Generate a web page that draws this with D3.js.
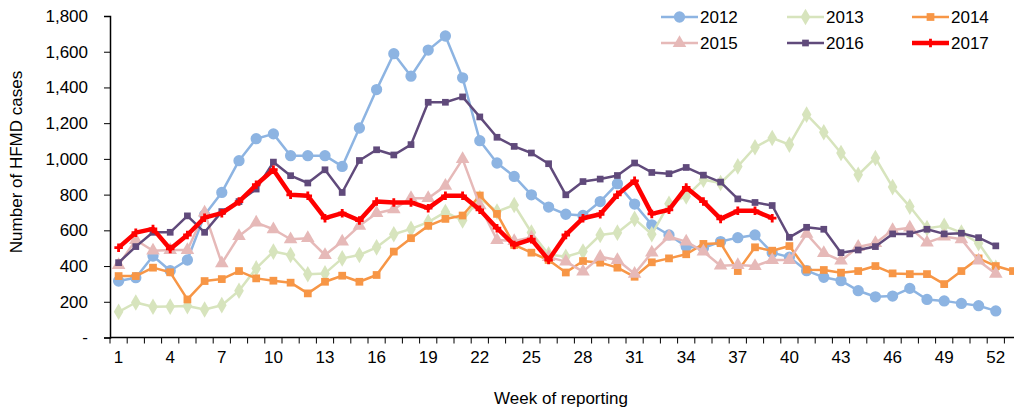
<!DOCTYPE html>
<html>
<head>
<meta charset="utf-8">
<script src="https://cdn.jsdelivr.net/npm/d3@7"></script>
<style>
  body { margin: 0; background: #fff; }
  text { font-family: "Liberation Sans", Arial, sans-serif; fill: #000; }
</style>
</head>
<body>
<div id="chart"></div>
<script>
// weekly HFMD cases per year
var weeks = d3.range(1, 54);
var yearNames = ["2012", "2013", "2014", "2015", "2016", "2017"];
var cases2012 = [316, 335, 456, 374, 434, 686, 812, 990, 1113, 1140, 1018, 1018, 1018, 958, 1173, 1388, 1589, 1463, 1609, 1688, 1454, 1102, 977, 902, 799, 730, 690, 683, 761, 861, 747, 631, 574, 509, 500, 537, 559, 574, 475, 450, 374, 337, 318, 262, 228, 232, 275, 213, 205, 191, 178, 149];
var cases2013 = [144, 196, 172, 173, 176, 157, 181, 262, 387, 481, 462, 354, 359, 443, 462, 505, 578, 608, 646, 702, 655, 780, 705, 742, 588, 465, 452, 481, 574, 587, 664, 578, 749, 790, 883, 865, 958, 1065, 1117, 1080, 1248, 1149, 1033, 911, 1005, 842, 733, 612, 625, 587, 528, 390];
var cases2014 = [344, 344, 391, 365, 213, 316, 327, 372, 331, 318, 307, 247, 312, 346, 312, 350, 481, 556, 625, 664, 683, 795, 692, 518, 475, 434, 364, 428, 419, 391, 340, 421, 443, 466, 524, 528, 372, 505, 486, 512, 380, 378, 363, 372, 400, 359, 355, 355, 299, 372, 443, 400, 372];
var cases2015 = [406, 546, 486, 490, 490, 699, 415, 568, 643, 606, 550, 556, 462, 537, 625, 696, 718, 780, 780, 849, 999, 740, 546, 540, 560, 450, 425, 369, 452, 434, 357, 475, 565, 537, 481, 402, 406, 400, 434, 434, 580, 473, 430, 507, 528, 602, 615, 531, 565, 550, 430, 357];
var cases2016 = [419, 509, 589, 589, 681, 589, 705, 761, 831, 982, 906, 865, 939, 812, 991, 1051, 1022, 1080, 1317, 1317, 1347, 1235, 1121, 1070, 1033, 973, 799, 873, 887, 907, 977, 924, 917, 952, 909, 870, 776, 756, 739, 561, 617, 606, 475, 490, 509, 580, 580, 606, 580, 584, 559, 513];
var cases2017 = [503, 587, 608, 496, 574, 671, 696, 761, 855, 939, 799, 793, 668, 696, 655, 761, 756, 756, 724, 793, 793, 715, 612, 518, 550, 434, 574, 668, 690, 799, 877, 692, 715, 840, 761, 664, 709, 709, 668];
var yTicks = [0, 200, 400, 600, 800, 1000, 1200, 1400, 1600, 1800];
var xLabelWeeks = [1, 4, 7, 10, 13, 16, 19, 22, 25, 28, 31, 34, 37, 40, 43, 46, 49, 52];

var allCases = [cases2012, cases2013, cases2014, cases2015, cases2016, cases2017];

// look of each series, same order as yearNames
var styles = [
  { color: "#8db4e2", width: 2.5, symbol: d3.symbolCircle, size: 100 },
  { color: "#d7e4bd", width: 2.5, symbol: d3.symbolDiamond, size: 80 },
  { color: "#f79646", width: 2.5, symbol: d3.symbolSquare, size: 60 },
  { color: "#e6b9b8", width: 2.5, symbol: d3.symbolTriangle, size: 80 },
  { color: "#604a7b", width: 2.5, symbol: d3.symbolSquare, size: 45 },
  { color: "#ff0000", width: 4.5, symbol: d3.symbolCross, size: 40 }
];

var width = 1014, height = 412;
var step = 17.2;
var fs = "17px";

var svg = d3.select("#chart").append("svg")
    .attr("width", width)
    .attr("height", height);

var x = d3.scaleLinear()
    .domain([0.5, 53.5])
    .range([110, 110 + 53 * step]);

var y = d3.scaleLinear()
    .domain([0, 1800])
    .range([337.5, 16]);

// y axis
var yAxis = d3.axisLeft(y)
    .tickValues(yTicks)
    .tickSize(6)
    .tickPadding(16)
    .tickFormat(function(d) { return d === 0 ? "-" : d3.format(",")(d); });

var gy = svg.append("g")
    .attr("transform", "translate(" + x(0.5) + ",0)")
    .call(yAxis);
gy.select(".domain").attr("stroke", "#000").attr("stroke-width", 1.5);
gy.selectAll(".tick line").attr("stroke", "#000");
gy.selectAll(".tick text").style("font-size", fs);

// x axis: ticks between weeks, labels every third week
var xg = svg.append("g");
xg.append("line")
    .attr("x1", x(0.5)).attr("x2", width)
    .attr("y1", y(0)).attr("y2", y(0))
    .attr("stroke", "#000").attr("stroke-width", 1.5);
xg.selectAll(".xt")
    .data(d3.range(0.5, 54, 1))
    .enter().append("line")
    .attr("x1", function(d) { return x(d); })
    .attr("x2", function(d) { return x(d); })
    .attr("y1", y(0))
    .attr("y2", y(0) + 6)
    .attr("stroke", "#000");
xg.selectAll(".xl")
    .data(xLabelWeeks)
    .enter().append("text")
    .attr("x", function(d) { return x(d); })
    .attr("y", 363)
    .attr("text-anchor", "middle")
    .style("font-size", fs)
    .text(function(d) { return d; });

// axis titles
svg.append("text")
    .attr("transform", "translate(22,162) rotate(-90)")
    .attr("text-anchor", "middle")
    .style("font-size", fs)
    .text("Number of HFMD cases");

svg.append("text")
    .attr("x", 561)
    .attr("y", 404)
    .attr("text-anchor", "middle")
    .style("font-size", fs)
    .text("Week of reporting");

// lines + markers
var line = d3.line()
    .x(function(d, i) { return x(weeks[i]); })
    .y(function(d) { return y(d); });

allCases.forEach(function(vals, k) {
  var st = styles[k];
  var g = svg.append("g").attr("class", "series");
  g.append("path")
    .attr("d", line(vals))
    .attr("fill", "none")
    .attr("stroke", st.color)
    .attr("stroke-width", st.width)
    .attr("stroke-linejoin", "round");
  g.selectAll(".m")
    .data(vals)
    .enter().append("path")
    .attr("transform", function(d, i) { return "translate(" + x(weeks[i]) + "," + y(d) + ")"; })
    .attr("d", d3.symbol().type(st.symbol).size(st.size))
    .attr("fill", st.color);
});

// legend, 3 columns x 2 rows
var legCols = [661, 787, 912];
var legRows = [17, 43];
var leg = svg.selectAll(".leg")
    .data(yearNames)
    .enter().append("g")
    .attr("transform", function(d, i) {
      return "translate(" + legCols[i % 3] + "," + legRows[Math.floor(i / 3)] + ")";
    });
leg.append("line")
    .attr("x1", 0).attr("x2", 37)
    .attr("stroke", function(d, i) { return styles[i].color; })
    .attr("stroke-width", function(d, i) { return styles[i].width; });
leg.append("path")
    .attr("transform", "translate(18.5,0)")
    .attr("d", function(d, i) { return d3.symbol().type(styles[i].symbol).size(styles[i].size)(); })
    .attr("fill", function(d, i) { return styles[i].color; });
leg.append("text")
    .attr("x", 39)
    .attr("y", 6)
    .style("font-size", fs)
    .text(function(d) { return d; });
</script>
</body>
</html>
